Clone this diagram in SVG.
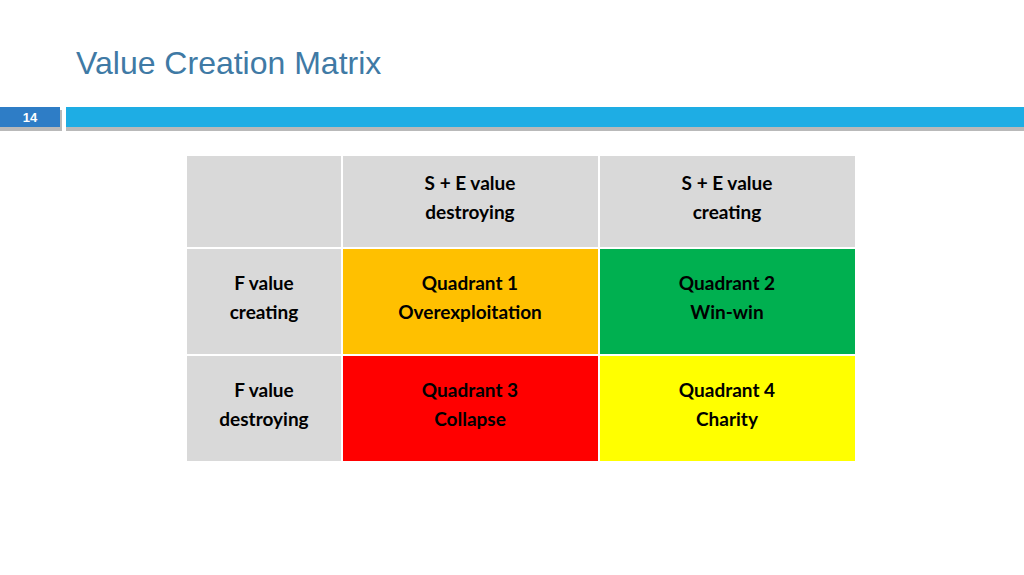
<svg xmlns="http://www.w3.org/2000/svg" width="1024" height="575" viewBox="0 0 1024 575">
<style>
.t{font-family:Lato,"Open Sans",sans-serif;font-weight:bold;font-size:19px;fill:#000;text-anchor:middle}
</style>
<rect width="1024" height="575" fill="#fff"/>
<text x="76" y="74" font-family="'Liberation Sans',Arial,sans-serif" font-size="32" fill="#3F7AA5">Value Creation Matrix</text>
<g id="header">
<rect x="0" y="110" width="62" height="21" fill="#8a8a8a" opacity="0.6"/>
<rect x="66" y="110" width="958" height="21" fill="#8a8a8a" opacity="0.6"/>
<rect x="0" y="107" width="60" height="20" fill="#2E7DC6"/>
<rect x="66" y="107" width="958" height="20" fill="#1EADE4"/>
<text x="30" y="122" font-family="'Liberation Sans',Arial,sans-serif" font-size="13" font-weight="bold" fill="#fff" text-anchor="middle">14</text>
</g>
<g id="matrix" stroke="#fff" stroke-width="2">
<rect x="186" y="155" width="156" height="93" fill="#D9D9D9"/>
<rect x="342" y="155" width="257" height="93" fill="#D9D9D9"/>
<rect x="599" y="155" width="257" height="93" fill="#D9D9D9"/>
<rect x="186" y="248" width="156" height="107" fill="#D9D9D9"/>
<rect x="342" y="248" width="257" height="107" fill="#FFC000"/>
<rect x="599" y="248" width="257" height="107" fill="#00B050"/>
<rect x="186" y="355" width="156" height="107" fill="#D9D9D9"/>
<rect x="342" y="355" width="257" height="107" fill="#FF0000"/>
<rect x="599" y="355" width="257" height="107" fill="#FFFF00"/>
</g>
<g id="labels">
<text class="t" x="470" y="190">S + E value</text><text class="t" x="470" y="219">destroying</text>
<text class="t" x="727" y="190">S + E value</text><text class="t" x="727" y="219">creating</text>
<text class="t" x="264" y="290">F value</text><text class="t" x="264" y="319">creating</text>
<text class="t" x="470" y="290">Quadrant 1</text><text class="t" x="470" y="319">Overexploitation</text>
<text class="t" x="727" y="290">Quadrant 2</text><text class="t" x="727" y="319">Win-win</text>
<text class="t" x="264" y="397">F value</text><text class="t" x="264" y="426">destroying</text>
<text class="t" x="470" y="397">Quadrant 3</text><text class="t" x="470" y="426">Collapse</text>
<text class="t" x="727" y="397">Quadrant 4</text><text class="t" x="727" y="426">Charity</text>
</g>
</svg>
